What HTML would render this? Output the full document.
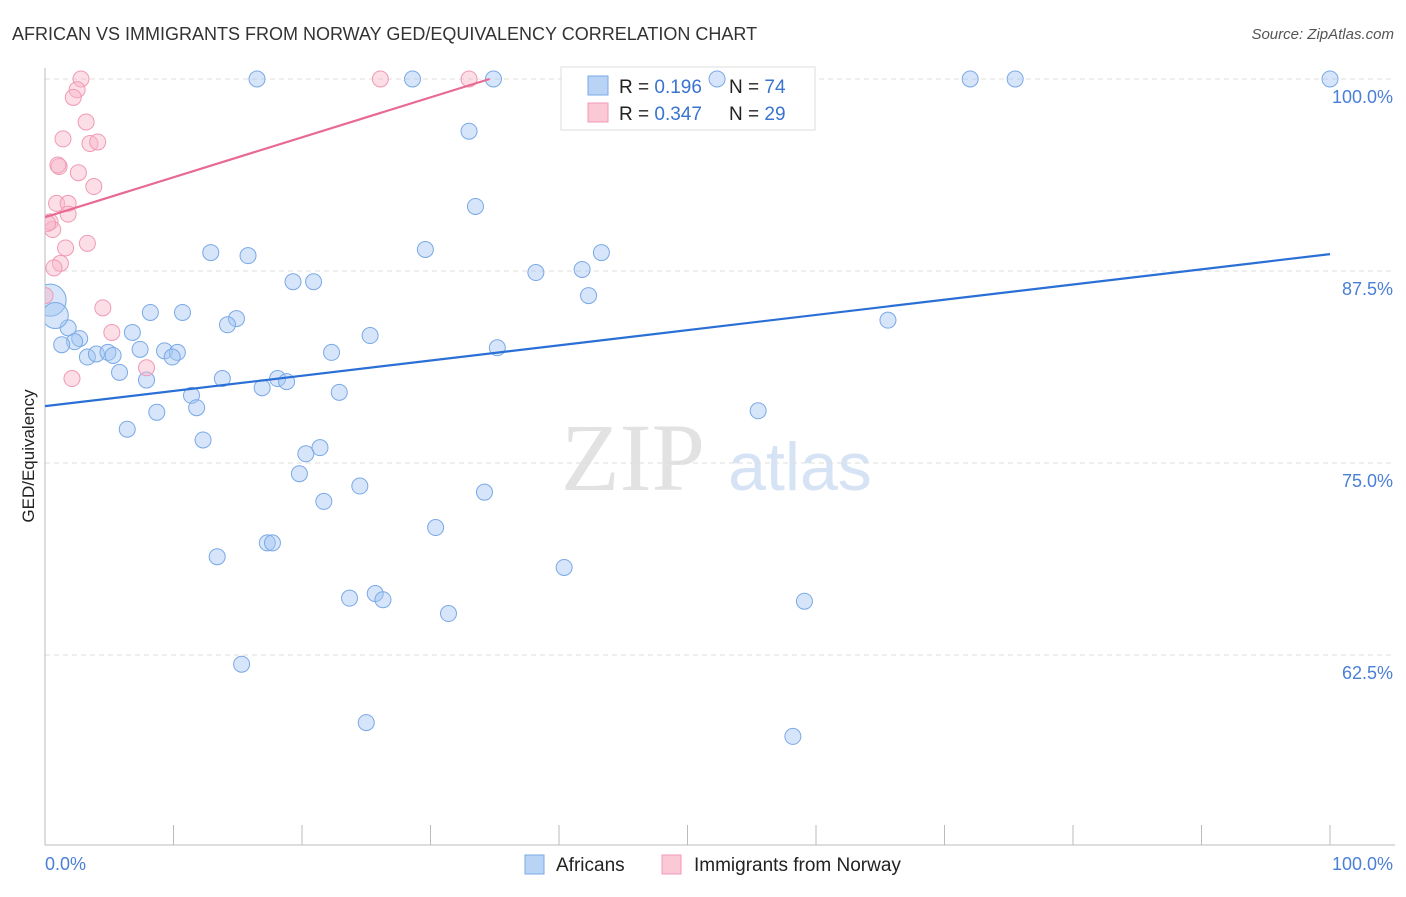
<!DOCTYPE html>
<html><head><meta charset="utf-8"><style>
body{margin:0;background:#fff;font-family:"Liberation Sans",sans-serif;}
svg text{font-family:"Liberation Sans",sans-serif;}
</style></head><body>
<svg id="chart" width="1406" height="892" xmlns="http://www.w3.org/2000/svg">
<defs><clipPath id="plotclip"><rect x="45" y="0" width="1361" height="845"/></clipPath></defs>
<text x="12" y="40" font-size="18" fill="#333">AFRICAN VS IMMIGRANTS FROM NORWAY GED/EQUIVALENCY CORRELATION CHART</text>
<text x="1394" y="39" font-size="15" fill="#555" font-style="italic" text-anchor="end">Source: ZipAtlas.com</text>
<text x="633" y="490" font-size="96" fill="#e2e2e2" text-anchor="middle" style="font-family:'Liberation Serif',serif">ZIP</text>
<text x="800" y="490" font-size="68" fill="#d5e3f5" text-anchor="middle">atlas</text>
<g id="grid"></g><g id="axes"></g>
<text transform="translate(34,456) rotate(-90)" font-size="17" fill="#222" text-anchor="middle">GED/Equivalency</text>
<text x="45" y="870" font-size="18" fill="#4a7fd6">0.0%</text>
<text x="1393" y="870" font-size="18" fill="#4a7fd6" text-anchor="end">100.0%</text>
<g>
<rect x="561" y="67" width="254" height="63" fill="#fff" stroke="#ddd"/>
<rect x="588" y="76" width="20" height="19" fill="#b9d3f5" stroke="#7aa9e6"/>
<rect x="588" y="103" width="20" height="19" fill="#fbc8d6" stroke="#f09ab5"/>
<text x="619" y="93" font-size="19" fill="#222">R = <tspan fill="#3a73d0"> 0.196</tspan></text>
<text x="729" y="93" font-size="19" fill="#222">N = <tspan fill="#3a73d0">74</tspan></text>
<text x="619" y="120" font-size="19" fill="#222">R = <tspan fill="#3a73d0">0.347</tspan></text>
<text x="729" y="120" font-size="19" fill="#222">N = <tspan fill="#3a73d0">29</tspan></text>
</g>
<g id="marks" clip-path="url(#plotclip)"></g>
<g>
<rect x="525" y="855" width="19" height="19" fill="#b9d3f5" stroke="#7aa9e6"/>
<text x="556" y="871" font-size="19" fill="#222">Africans</text>
<rect x="662" y="855" width="19" height="19" fill="#fbc8d6" stroke="#f09ab5"/>
<text x="694" y="871" font-size="19" fill="#222">Immigrants from Norway</text>
</g>
</svg>
<script>
const yTicks=[100,87.5,75,62.5];
const yTickLabels=["100.0%","87.5%","75.0%","62.5%"];
const blueX=[16.5,28.6,34.9,52.3,72.0,75.5,100,33.0,33.5,12.9,15.8,29.6,43.3,38.2,41.8,42.3,19.3,20.9,8.2,10.7,14.9,14.2,65.6,25.3,1.8,6.8,2.7,2.3,1.3,3.3,4.0,4.9,5.3,7.4,9.3,10.3,9.9,22.3,35.2,5.8,7.9,13.8,18.1,18.8,16.9,11.4,22.9,11.8,8.7,55.5,6.4,12.3,21.4,20.3,19.8,24.5,34.2,21.7,30.4,17.3,17.7,13.4,40.4,23.7,25.7,26.3,31.4,59.1,15.3,25.0,58.2,0.4,0.8];
const blueY=[100,100,100,100,100,100,100,96.6,91.7,88.7,88.5,88.9,88.7,87.4,87.6,85.9,86.8,86.8,84.8,84.8,84.4,84.0,84.3,83.3,83.8,83.5,83.1,82.9,82.7,81.9,82.1,82.2,82.0,82.4,82.3,82.2,81.9,82.2,82.5,80.9,80.4,80.5,80.5,80.3,79.9,79.4,79.6,78.6,78.3,78.4,77.2,76.5,76.0,75.6,74.3,73.5,73.1,72.5,70.8,69.8,69.8,68.9,68.2,66.2,66.5,66.1,65.2,66.0,61.9,58.1,57.2,85.6,84.6];
const pinkX=[2.8,26.1,33.0,2.5,2.2,3.2,1.4,3.5,4.1,1.1,2.6,3.8,0.9,1.8,1.8,0.4,0.6,3.3,1.6,1.2,0.7,0,4.5,5.2,2.1,7.9,1.0,0.2];
const pinkY=[100,100,100,99.3,98.8,97.2,96.1,95.8,95.9,94.3,93.9,93.0,91.9,91.9,91.2,90.7,90.2,89.3,89.0,88.0,87.7,85.9,85.1,83.5,80.5,81.2,94.4,90.6];
const blueTrend=[78.7,88.6];
const pinkTrend=[91.0,100,34.6];
const NS="http://www.w3.org/2000/svg";
const sx=v=>45+v*12.85;
const sy=v=>79+(100-v)*15.36;
function mk(t,a,p){const e=document.createElementNS(NS,t);for(const k in a)e.setAttribute(k,a[k]);document.getElementById(p).appendChild(e);return e;}
yTicks.forEach((t,i)=>{
 const l=mk('line',{x1:45,x2:1395,y1:sy(t),y2:sy(t),stroke:'#ddd','stroke-dasharray':'5,4'},'grid');
 
 
 const tx=mk('text',{x:1393,y:sy(t)+24,'font-size':18,fill:'#4a7fd6','text-anchor':'end'},'grid');
 tx.textContent=yTickLabels[i];
 
 
});
const ya=mk('line',{x1:45,x2:45,y1:68,y2:845,stroke:'#bbb'},'axes');


const xa=mk('line',{x1:45,x2:1395,y1:845,y2:845,stroke:'#bbb'},'axes');


for(let i=1;i<=10;i++){const t=mk('line',{x1:sx(i*10),x2:sx(i*10),y1:825,y2:845,stroke:'#bbb'},'axes');
 
 }
blueX.forEach((x,i)=>{const r=i==71?16:(i==72?13:8);const c=mk('circle',{cx:sx(x),cy:sy(blueY[i]),r:r,fill:'rgba(164,198,242,0.45)',stroke:'#7aa9e6','stroke-width':1},'marks');
 
 });
pinkX.forEach((x,i)=>{const c=mk('circle',{cx:sx(x),cy:sy(pinkY[i]),r:8,fill:'rgba(248,182,202,0.45)',stroke:'#f09ab5','stroke-width':1},'marks');
 
 });
const bl=mk('line',{x1:sx(0),y1:sy(blueTrend[0]),x2:sx(100),y2:sy(blueTrend[1]),stroke:'#2a6fd6','stroke-width':2.2},'marks');


const pl=mk('line',{x1:sx(0),y1:sy(pinkTrend[0]),x2:sx(pinkTrend[2]),y2:sy(pinkTrend[1]),stroke:'#e86a94','stroke-width':2.2},'marks');


</script>
</body></html>
